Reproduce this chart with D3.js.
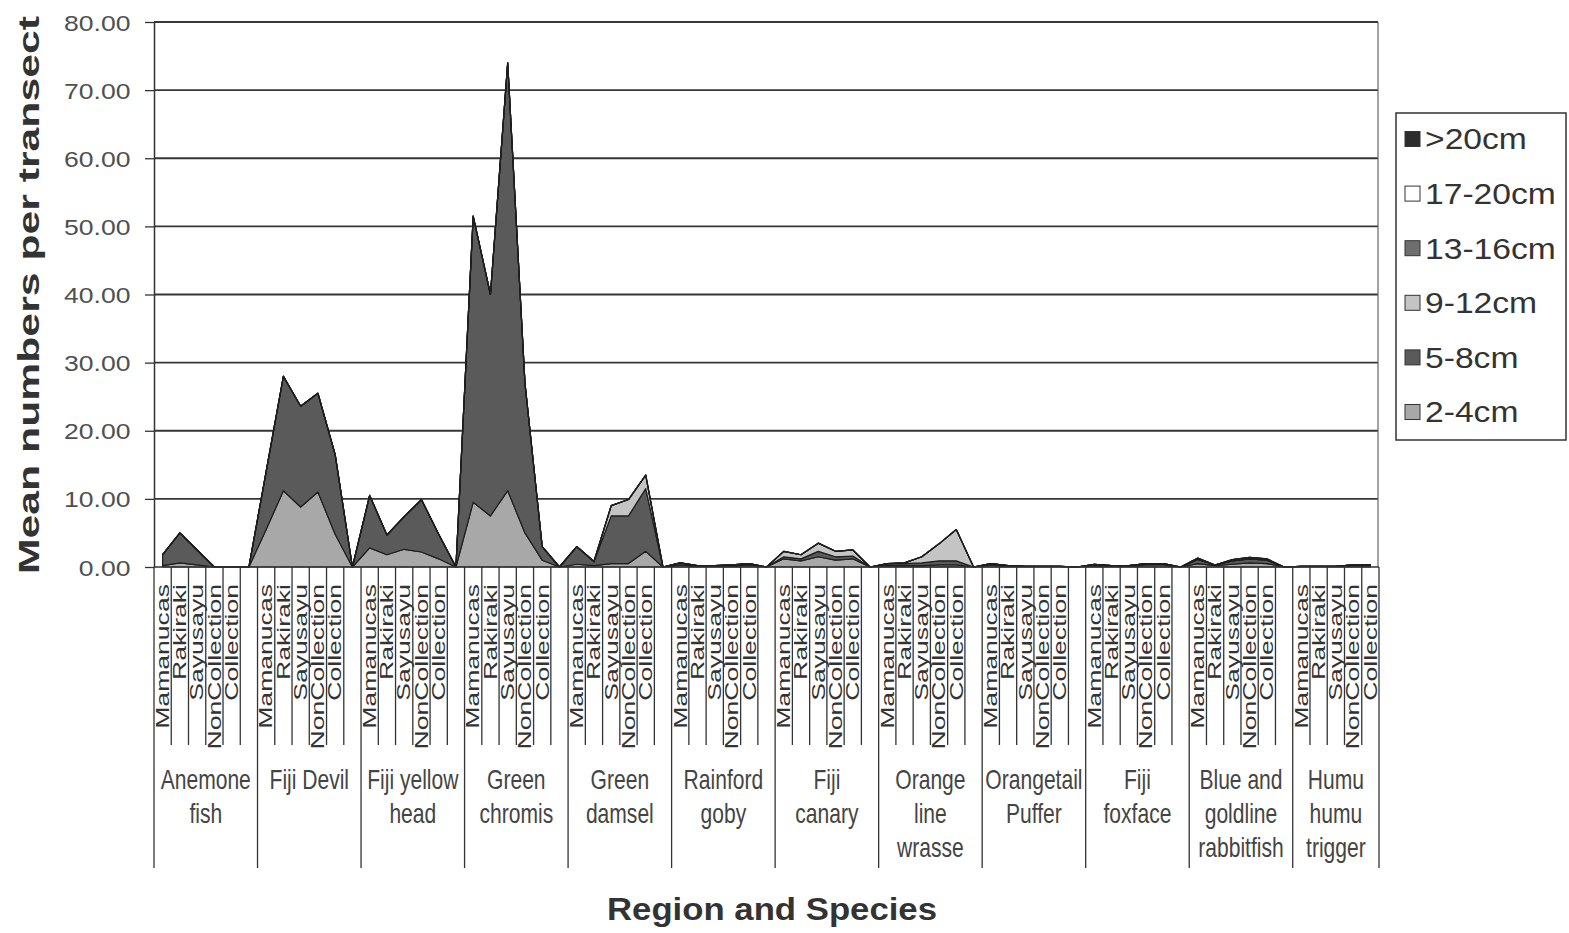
<!DOCTYPE html>
<html>
<head>
<meta charset="utf-8">
<script src="https://cdn.jsdelivr.net/npm/d3@7"></script>
<style>
  html, body { margin: 0; padding: 0; background: #ffffff; }
  svg { display: block; font-family: "Liberation Sans", Arial, sans-serif; }
</style>
</head>
<body>
<script>
// Species groups along the x axis (each group split by region)
const speciesLabels = [
  ["Anemone", "fish"],
  ["Fiji Devil"],
  ["Fiji yellow", "head"],
  ["Green", "chromis"],
  ["Green", "damsel"],
  ["Rainford", "goby"],
  ["Fiji", "canary"],
  ["Orange", "line", "wrasse"],
  ["Orangetail", "Puffer"],
  ["Fiji", "foxface"],
  ["Blue and", "goldline", "rabbitfish"],
  ["Humu", "humu", "trigger"]
];
const regions = ["Mamanucas", "Rakiraki", "Sayusayu", "NonCollection", "Collection"];
const sizeClasses = ["2-4cm", "5-8cm", "9-12cm", "13-16cm", "17-20cm", ">20cm"];
const yTicks = [0, 10, 20, 30, 40, 50, 60, 70, 80];

// Mean numbers per transect, one row per species, one column per region
const size2to4 = [
  [0.2, 0.6, 0.3, 0, 0],
  [5.5, 11.2, 8.8, 11.0, 4.8],
  [2.8, 1.8, 2.6, 2.2, 1.2],
  [9.5, 7.5, 11.2, 5.0, 1.0],
  [0.4, 0.2, 0.5, 0.5, 2.3],
  [0.3, 0.1, 0.1, 0.1, 0.3],
  [1.2, 0.9, 1.5, 1.0, 1.2],
  [0.2, 0.2, 0.2, 0.3, 0.3],
  [0.3, 0.1, 0.1, 0.1, 0.1],
  [0.2, 0.1, 0.1, 0.3, 0.3],
  [0.5, 0.2, 0.4, 0.6, 0.5],
  [0.1, 0.1, 0.1, 0.2, 0.2]
];
const size5to8 = [
  [1.6, 4.4, 2.2, 0, 0],
  [8.5, 16.8, 14.8, 14.5, 11.7],
  [7.7, 2.9, 4.8, 7.7, 3.6],
  [42.0, 32.5, 62.8, 22.0, 2.0],
  [2.6, 0.6, 7.0, 7.0, 9.2],
  [0.3, 0.1, 0.1, 0.2, 0.2],
  [0.3, 0.3, 0.8, 0.5, 0.4],
  [0.3, 0.3, 0.4, 0.6, 0.6],
  [0.2, 0.1, 0, 0, 0],
  [0.2, 0.1, 0.1, 0.2, 0.2],
  [0.6, 0.1, 0.5, 0.6, 0.5],
  [0, 0, 0, 0.1, 0.1]
];
const size9to12 = [
  [0, 0, 0, 0, 0],
  [0, 0, 0, 0, 0],
  [0, 0, 0, 0, 0],
  [0, 0, 0, 0, 0],
  [0, 0, 1.5, 2.4, 2.0],
  [0, 0, 0, 0, 0],
  [0.8, 0.6, 1.2, 0.8, 0.9],
  [0, 0.1, 0.9, 2.5, 4.6],
  [0, 0, 0, 0, 0],
  [0, 0, 0, 0, 0],
  [0, 0, 0, 0, 0],
  [0, 0, 0, 0, 0]
];
const size13to16 = [
  [0, 0, 0, 0, 0], [0, 0, 0, 0, 0], [0, 0, 0, 0, 0], [0, 0, 0, 0, 0],
  [0, 0, 0, 0, 0], [0, 0, 0, 0, 0], [0, 0, 0, 0, 0], [0, 0, 0, 0, 0],
  [0, 0, 0, 0, 0], [0, 0, 0, 0, 0], [0.2, 0, 0.2, 0.2, 0.2], [0, 0, 0, 0, 0]
];
const size17to20 = [
  [0, 0, 0, 0, 0], [0, 0, 0, 0, 0], [0, 0, 0, 0, 0], [0, 0, 0, 0, 0],
  [0, 0, 0, 0, 0], [0, 0, 0, 0, 0], [0, 0, 0, 0, 0], [0, 0, 0, 0, 0],
  [0, 0, 0, 0, 0], [0, 0, 0, 0, 0], [0, 0, 0, 0, 0], [0, 0, 0, 0, 0]
];
const sizeOver20 = [
  [0, 0, 0, 0, 0], [0, 0, 0, 0, 0], [0, 0, 0, 0, 0], [0, 0, 0, 0, 0],
  [0, 0, 0, 0, 0], [0, 0, 0, 0, 0], [0, 0, 0, 0, 0], [0, 0, 0, 0, 0],
  [0, 0, 0, 0, 0], [0, 0, 0, 0, 0], [0, 0, 0, 0, 0], [0, 0, 0, 0, 0]
];
const seriesData = [size2to4, size5to8, size9to12, size13to16, size17to20, sizeOver20];
const fills = ["#a8a8a8", "#5a5a5a", "#c4c4c4", "#6e6e6e", "#ffffff", "#2c2c2c"];

// Category slots: five regions per species, then an empty slot between species
const slots = [];
speciesLabels.forEach((sp, g) => {
  regions.forEach((r, ri) => {
    const row = { key: g + "-" + ri, g, region: r };
    sizeClasses.forEach((s, si) => { row[s] = seriesData[si][g][ri]; });
    slots.push(row);
  });
  if (g < speciesLabels.length - 1) {
    const gap = { key: g + "-gap", g, region: "" };
    sizeClasses.forEach(s => { gap[s] = 0; });
    slots.push(gap);
  }
});

const W = 1569, H = 933;
const plotLeft = 154, plotRight = 1379, plotBottom = 567, plotTop = 22;

const svg = d3.select("body").append("svg").attr("width", W).attr("height", H);

const x = d3.scaleBand().domain(slots.map(d => d.key)).range([plotLeft, plotRight]).paddingInner(0).paddingOuter(0);
const y = d3.scaleLinear().domain([0, 80]).range([plotBottom, plotTop]);
const bw = x.bandwidth();
const cx = k => x(k) + bw / 2;

// Horizontal gridlines
svg.append("g").selectAll("line").data(yTicks.filter(t => t > 0)).join("line")
  .attr("x1", plotLeft).attr("x2", plotRight - 1)
  .attr("y1", d => y(d)).attr("y2", d => y(d))
  .attr("stroke", "#363636").attr("stroke-width", 1.8);

// Right border of the plot
svg.append("line").attr("x1", plotRight - 1).attr("x2", plotRight - 1).attr("y1", y(80)).attr("y2", plotBottom)
  .attr("stroke", "#666").attr("stroke-width", 1.2);

// Stacked areas
const stacked = d3.stack().keys(sizeClasses)(slots);
const area = d3.area()
  .x(d => cx(d.data.key))
  .y0(d => y(d[0]))
  .y1(d => y(d[1]));

svg.append("g").selectAll("path").data(stacked).join("path")
  .attr("d", area)
  .attr("fill", (d, i) => fills[i])
  .attr("stroke", "#1e1e1e")
  .attr("stroke-width", 1.2)
  .attr("stroke-linejoin", "round");

// Y axis
const yAxis = svg.append("g").attr("transform", `translate(${plotLeft},0)`)
  .call(d3.axisLeft(y).tickValues(yTicks).tickFormat(d3.format(".2f")).tickSize(9).tickSizeOuter(0));
yAxis.select(".domain").attr("stroke", "#333").attr("stroke-width", 1.5);
yAxis.selectAll(".tick line").attr("stroke", "#333").attr("stroke-width", 1.3);
yAxis.selectAll(".tick text")
  .attr("x", -20).attr("dy", "0.36em")
  .attr("font-size", 22.5).attr("fill", "#505050")
  .attr("font-family", "'Liberation Sans', Arial, sans-serif")
  .attr("transform", "scale(1.18,1)");

// X axis baseline
svg.append("line").attr("x1", plotLeft).attr("x2", plotRight).attr("y1", plotBottom).attr("y2", plotBottom)
  .attr("stroke", "#333").attr("stroke-width", 1.5);

// Category tick lines: short ones between regions, long ones between species
const bounds = slots.map(d => x(d.key)).concat([plotRight]);
const groupStarts = new Set();
speciesLabels.forEach((sp, g) => { groupStarts.add(x(g + "-0")); });
groupStarts.add(plotRight);
svg.append("g").selectAll("line").data(bounds).join("line")
  .attr("x1", d => d).attr("x2", d => d)
  .attr("y1", plotBottom)
  .attr("y2", d => groupStarts.has(d) ? 868 : 745)
  .attr("stroke", "#333").attr("stroke-width", 1.3);

// Region labels (rotated)
svg.append("g").selectAll("text").data(slots.filter(d => d.region)).join("text")
  .attr("transform", d => `translate(${cx(d.key)},584) rotate(-90) scale(1.52,1)`)
  .attr("text-anchor", "end")
  .attr("dy", "0.36em")
  .attr("font-size", 17.5)
  .attr("fill", "#333")
  .text(d => d.region);

// Species labels
const groupCenter = g => {
  const keys = slots.filter(d => d.g === g).map(d => d.key);
  const a = x(keys[0]);
  const b = x(keys[keys.length - 1]) + bw;
  return (a + b) / 2;
};
const sp = svg.append("g").selectAll("text").data(speciesLabels).join("text")
  .attr("transform", (d, g) => `translate(${groupCenter(g)},789) scale(0.78,1)`)
  .attr("text-anchor", "middle")
  .attr("font-size", 27)
  .attr("fill", "#444");
sp.selectAll("tspan").data(d => d).join("tspan")
  .attr("x", 0)
  .attr("dy", (d, i) => i === 0 ? 0 : 34)
  .text(d => d);

// Axis titles
svg.append("text")
  .attr("transform", "translate(39,295) rotate(-90)")
  .attr("text-anchor", "middle")
  .attr("font-size", 30).attr("font-weight", "bold").attr("fill", "#333")
  .attr("textLength", 558).attr("lengthAdjust", "spacingAndGlyphs")
  .text("Mean numbers per transect");

svg.append("text")
  .attr("x", 772).attr("y", 920)
  .attr("text-anchor", "middle")
  .attr("font-size", 32).attr("font-weight", "bold").attr("fill", "#333")
  .attr("textLength", 330).attr("lengthAdjust", "spacingAndGlyphs")
  .text("Region and Species");

// Legend (largest size class first)
const legend = svg.append("g");
legend.append("rect").attr("x", 1396).attr("y", 113).attr("width", 170).attr("height", 327)
  .attr("fill", "#fff").attr("stroke", "#333").attr("stroke-width", 1.5);
const legendItems = sizeClasses.map((s, i) => ({ s, fill: fills[i] })).reverse();
const li = legend.selectAll("g.item").data(legendItems).join("g")
  .attr("class", "item")
  .attr("transform", (d, i) => `translate(1405,${139 + i * 54.6})`);
li.append("rect").attr("x", 0).attr("y", -7.5).attr("width", 15).attr("height", 15)
  .attr("fill", d => d.fill).attr("stroke", "#333").attr("stroke-width", 1);
li.append("text")
  .attr("transform", "translate(20,0) scale(1.16,1)")
  .attr("dy", "0.36em")
  .attr("font-size", 29).attr("fill", "#333")
  .text(d => d.s);
</script>
</body>
</html>
